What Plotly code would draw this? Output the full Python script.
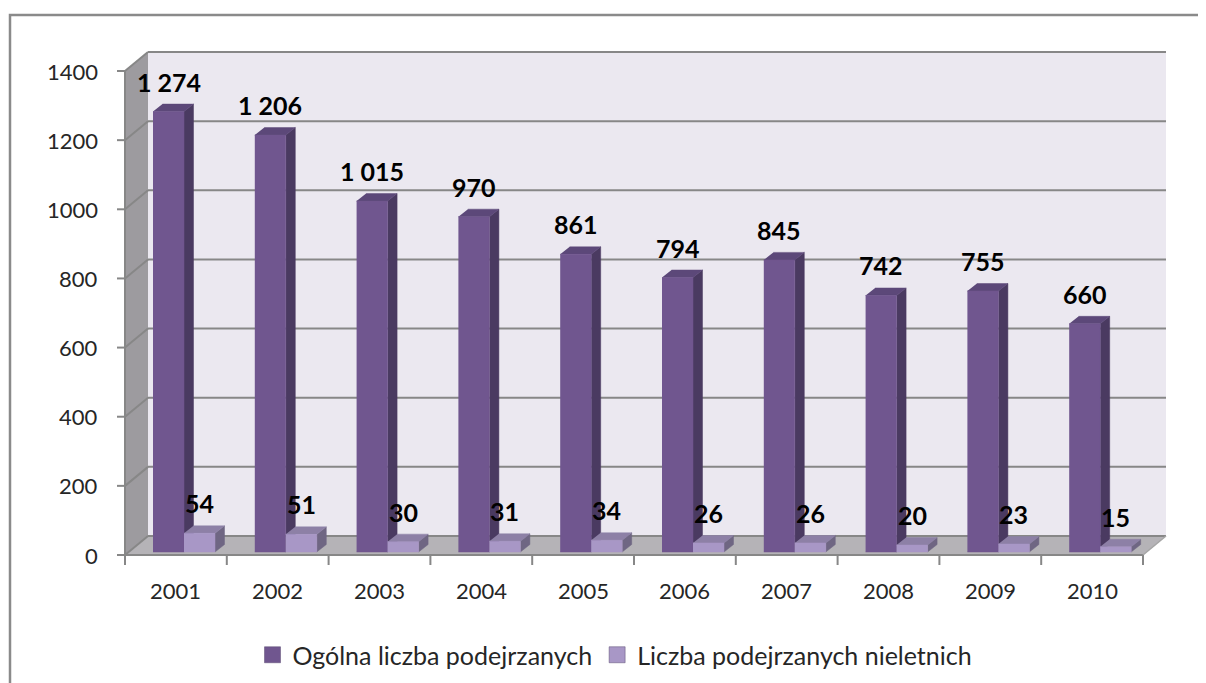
import plotly.graph_objects as go

# ---------------- data ----------------
years = ["2001", "2002", "2003", "2004", "2005", "2006", "2007", "2008", "2009", "2010"]
ogolna = [1274, 1206, 1015, 970, 861, 794, 845, 742, 755, 660]
nieletni = [54, 51, 30, 31, 34, 26, 26, 20, 23, 15]
label_ogolna = ["1 274", "1 206", "1 015", "970", "861", "794", "845", "742", "755", "660"]
label_nieletni = [str(v) for v in nieletni]
yticks = [0, 200, 400, 600, 800, 1000, 1200, 1400]
series_names = ["Ogólna liczba podejrzanych", "Liczba podejrzanych nieletnich"]

# ---------------- geometry / style ----------------
OFF = 8              # page body margin
W, H = 1206 - OFF, 683 - OFF
PXC = 101.8          # px per category
PXU = 0.3457         # px per value unit
X0PX, Y0PX = 125 - OFF, 555 - OFF
PX_X = 1.0 / PXC
PX_Y = 1.0 / PXU
xmin = -X0PX * PX_X
xmax = xmin + W * PX_X
ymax = Y0PX * PX_Y
ymin = -(H - Y0PX) * PX_Y

WDX, WDY = 23 * PX_X, 19 * PX_Y          # wall depth
BF = (3.5 * PX_X, 3 * PX_Y)               # bar front offset
BD = (9.5 * PX_X, 7.5 * PX_Y)             # bar depth
BW = 31 * PX_X
BL = 24.5 * PX_X
YTOP = yticks[-1]
N = len(years)

FONT = "Lato"
GRID = "#878787"

fig = go.Figure()


def poly(xs, ys, color, lw=0, lc=None):
    fig.add_trace(go.Scatter(x=xs, y=ys, fill="toself", fillcolor=color, mode="lines",
                             line=dict(width=lw, color=lc or color), hoverinfo="skip",
                             showlegend=False))


def line(xs, ys, color=GRID, width=2):
    fig.add_trace(go.Scatter(x=xs, y=ys, mode="lines", line=dict(color=color, width=width),
                             hoverinfo="skip", showlegend=False))


# side wall
poly([0, 0, WDX, WDX], [0, YTOP, YTOP + WDY, WDY], "#9d9b9f")
# back wall
poly([WDX, N + WDX, N + WDX, WDX], [WDY, WDY, YTOP + WDY, YTOP + WDY], "#ebe8f0")
# floor
poly([0, N, N + WDX, WDX], [0, 0, WDY, WDY], "#b5b3b7")

# gridlines
gx, gy, dx, dy, tx, ty = [], [], [], [], [], []
for t in yticks:
    gx += [WDX, N + WDX, None]
    gy += [t + WDY, t + WDY, None]
    dx += [0, WDX, None]
    dy += [t, t + WDY, None]
    tx += [-8 * PX_X, 0, None]
    ty += [t, t, None]
line(gx, gy)
line(dx, dy)
line(tx, ty)
# axes
line([0, 0], [0, YTOP])
line([0, N], [0, 0])
line([N, N + WDX], [0, WDY], color="#a5a5a5", width=1.5)
bx, by = [], []
for i in range(N + 1):
    bx += [i, i, None]
    by += [0, -10 * PX_Y, None]
line(bx, by)


def boxes(values, offset):
    fx, fy, sx, sy, tx_, ty_ = [], [], [], [], [], []
    for i, v in enumerate(values):
        x0 = i + offset + BF[0]
        x1 = x0 + BW
        b = BF[1]
        top = v + BF[1]
        fx += [x0, x1, x1, x0, None]
        fy += [b, b, top, top, None]
        sx += [x1, x1 + BD[0], x1 + BD[0], x1, None]
        sy += [b, b + BD[1], top + BD[1], top, None]
        tx_ += [x0, x1, x1 + BD[0], x0 + BD[0], None]
        ty_ += [top, top, top + BD[1], top + BD[1], None]
    return (fx, fy), (sx, sy), (tx_, ty_)


for vals, off, cols in [(ogolna, BL, ("#70568f", "#4a3a61", "#5c4879")),
                        (nieletni, BL + BW, ("#a897c6", "#6f6683", "#8d80a6"))]:
    (fx, fy), (sx, sy), (tx_, ty_) = boxes(vals, off)
    poly(sx, sy, cols[1], lw=0.5)
    poly(tx_, ty_, cols[2], lw=0.5)
    poly(fx, fy, cols[0], lw=0.5)

# data labels
for i in range(N):
    for vals, labs, off in [(ogolna, label_ogolna, BL), (nieletni, label_nieletni, BL + BW)]:
        fig.add_annotation(x=i + off + BF[0] + BW / 2, y=vals[i] + BF[1] + 30 * PX_Y,
                           text=labs[i], showarrow=False, xanchor="center", yanchor="middle",
                           font=dict(family=FONT, size=25, color="#000000", weight="bold"))

# axis labels
for t in yticks:
    fig.add_annotation(x=-25 * PX_X, y=t, text=str(t), showarrow=False, xanchor="right",
                       yanchor="middle", font=dict(family=FONT, size=22, color="#262626"))
for i, yr in enumerate(years):
    fig.add_annotation(x=i + 0.5, y=-35 * PX_Y, text=yr, showarrow=False, xanchor="center",
                       yanchor="middle", font=dict(family=FONT, size=22, color="#262626"))

# legend entries
for name, col in zip(series_names, ["#70568f", "#a897c6"]):
    fig.add_trace(go.Scatter(x=[None], y=[None], mode="markers", name=name,
                             marker=dict(symbol="square", size=16, color=col,
                                         line=dict(color="#5a4a70", width=0.5))))

fig.update_layout(
    width=W, height=H, autosize=False,
    margin=dict(l=0, r=0, t=0, b=0),
    paper_bgcolor="white", plot_bgcolor="white",
    xaxis=dict(range=[xmin, xmax], visible=False, fixedrange=True),
    yaxis=dict(range=[ymin, ymax], visible=False, fixedrange=True),
    showlegend=True,
    legend=dict(orientation="h", x=(615 - OFF) / W, xanchor="center", y=1 - (655 - OFF) / H,
                yanchor="middle", font=dict(family=FONT, size=25, color="#262626"),
                itemwidth=30, tracegroupgap=0, bgcolor="rgba(0,0,0,0)"),
    shapes=[dict(type="rect", xref="paper", yref="paper", x0=(10 - OFF) / W, x1=1.05,
                 y0=-0.05, y1=1 - (15 - OFF) / H, line=dict(color="#8a8a8a", width=2.5),
                 fillcolor="rgba(0,0,0,0)", layer="below")],
)

fig.write_html("out.html")
